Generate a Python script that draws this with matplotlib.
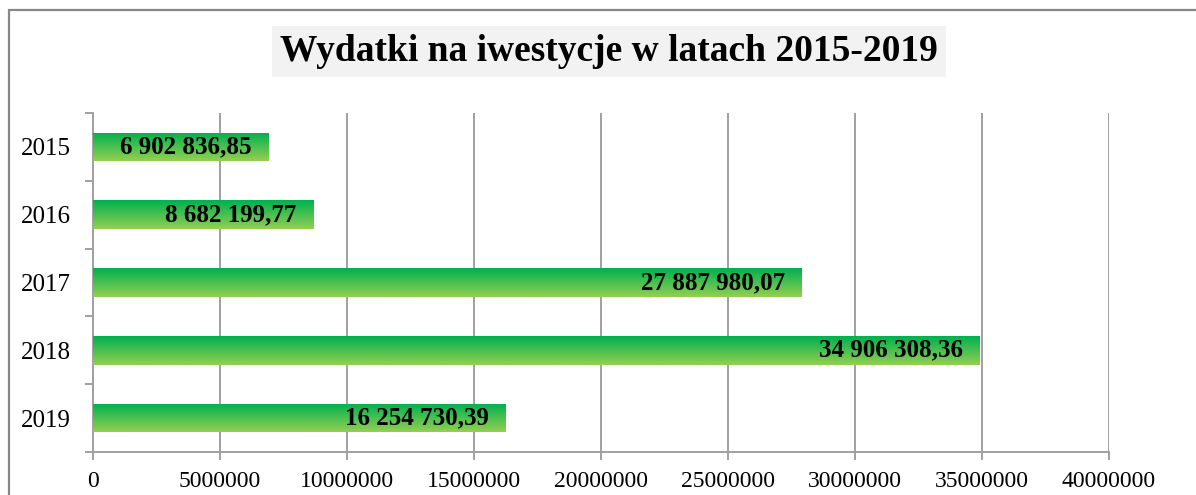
import numpy as np
import matplotlib
matplotlib.use("Agg")
import matplotlib.pyplot as plt
from matplotlib.colors import LinearSegmentedColormap
from matplotlib.patches import Rectangle

# dane
lata = ["2015", "2016", "2017", "2018", "2019"]
wydatki = [6902836.85, 8682199.77, 27887980.07, 34906308.36, 16254730.39]
etykiety = ["6 902 836,85", "8 682 199,77", "27 887 980,07", "34 906 308,36", "16 254 730,39"]
xticki = [0, 5000000, 10000000, 15000000, 20000000, 25000000, 30000000, 35000000, 40000000]

plt.rcParams['font.family'] = ['Liberation Serif', 'DejaVu Serif']

szary = '#a0a0a0'
gradient = LinearSegmentedColormap.from_list('ziel', ['#92d050', '#00b050'])

fig = plt.figure(figsize=(11.96, 4.95), dpi=100)
ax = fig.add_axes([93 / 1196, 1 - 452 / 495, (1109 - 93) / 1196, (452 - 113) / 495])

y = np.arange(len(lata))
bary = ax.barh(y, wydatki, height=0.42, color='none', edgecolor='none', zorder=3)

# gradient w kazdym slupku (ciemny u gory, jasny na dole)
grad = np.linspace(0, 1, 100).reshape(-1, 1)
for b in bary:
    x0, y0 = b.get_x(), b.get_y()
    w, h = b.get_width(), b.get_height()
    im = ax.imshow(grad, cmap=gradient, aspect='auto', origin='lower',
                   extent=[x0, x0 + w, y0 + h, y0], zorder=3)
    im.set_clip_path(b)

for val, txt, yy in zip(wydatki, etykiety, y):
    ax.annotate(txt, xy=(val, yy), xytext=(-12, 0), textcoords='offset points',
                ha='right', va='center', fontsize=18, fontweight='bold', zorder=4)

ax.set_xlim(0, 40000000)
ax.set_ylim(len(lata) - 0.5, -0.5)
ax.set_xticks(xticki)
ax.set_xticklabels([str(v) for v in xticki])

ax.set_yticks(np.arange(-0.5, len(lata), 1))
ax.set_yticklabels([])
ax.set_yticks(y, minor=True)
ax.set_yticklabels(lata, minor=True)
ax.tick_params(axis='y', which='minor', length=0, pad=16, labelsize=18)
ax.tick_params(axis='y', which='major', length=6, width=1.4, color=szary, direction='out')
ax.tick_params(axis='x', length=6, width=1.4, color=szary, labelsize=17, pad=8)

ax.grid(axis='x', color=szary, linewidth=1.4, zorder=0)
ax.set_axisbelow(True)
for s in ['top', 'right']:
    ax.spines[s].set_visible(False)
for s in ['left', 'bottom']:
    ax.spines[s].set_color(szary)
    ax.spines[s].set_linewidth(1.4)

fig.text(609 / 1196, 1 - 51.5 / 495, "Wydatki na iwestycje w latach 2015-2019",
         ha='center', va='center', fontsize=27, fontweight='bold',
         bbox=dict(facecolor='#f2f2f2', edgecolor='none', pad=6))

# ramka wykresu
fig.add_artist(Rectangle((9 / 1196, -0.2), 1.2, 1 - 10 / 495 + 0.2, transform=fig.transFigure,
                         fill=False, edgecolor='#878787', linewidth=1.6, clip_on=False))

fig.savefig('out.png', dpi=100)
